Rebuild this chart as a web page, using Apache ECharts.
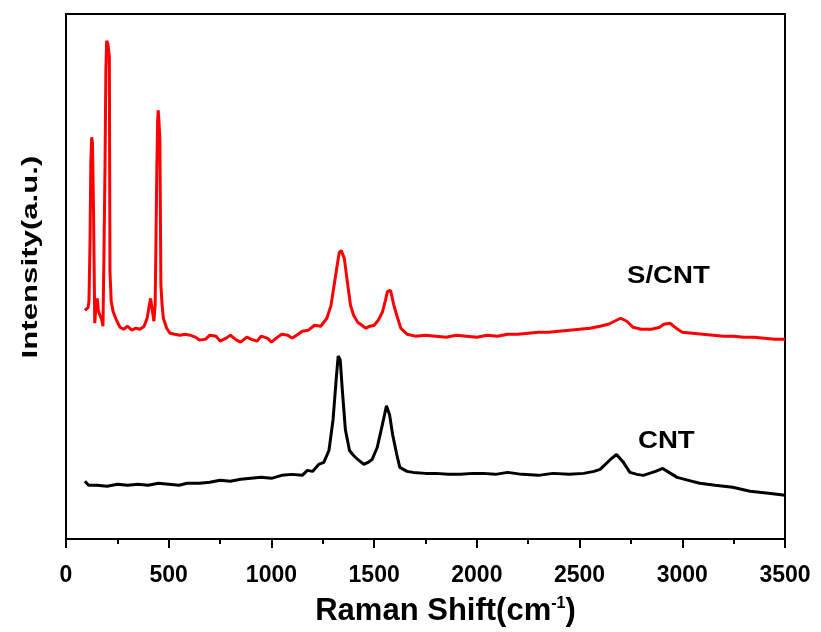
<!DOCTYPE html>
<html>
<head>
<meta charset="utf-8">
<script src="https://cdn.jsdelivr.net/npm/echarts@6/dist/echarts.min.js"></script>
<style>html,body{margin:0;padding:0;background:#fff}#c{width:821px;height:632px}</style>
</head>
<body>
<div id="c"></div>
<script>
// Raman shift (cm^-1) and intensity (a.u.)
const scntX = [92,100,108,112,117,121,125,129,134,140,146,152,158,165,172,180,185,190,194,198,204,211,214,220,229,238,248,263,280,300,320,340,360,380,395,403,412,420,428,434,438,442,446,449,453,457,462,468,474,490,506,530,555,580,604,630,650,680,700,730,750,780,800,830,850,880,900,930,950,980,1000,1030,1050,1080,1100,1130,1150,1180,1210,1240,1270,1290,1305,1320,1330,1340,1355,1370,1385,1400,1420,1440,1460,1480,1500,1520,1540,1555,1565,1580,1595,1610,1630,1660,1700,1750,1800,1850,1900,1950,2000,2050,2100,2150,2200,2250,2300,2350,2400,2450,2500,2550,2600,2640,2670,2700,2730,2760,2800,2850,2890,2910,2940,2970,3000,3050,3100,3150,3200,3250,3300,3350,3400,3450,3500];
const scntY = [230,228,233,240,300,380,404,398,330,217,235,242,229,225,222,214,290,375,470,501,498,485,269,239,229,224,219,213,211,214,210,212,211,214,222,232,242,230,219,236,300,370,420,431,418,402,255,235,222,212,207,206,205,206,205,203,200,201,205,204,199,202,205,200,198,203,201,199,204,202,198,203,206,205,202,206,209,210,215,214,222,235,255,275,288,290,282,258,235,225,218,215,212,214,215,220,228,240,249,250,236,225,212,206,204,205,204,203,205,204,203,205,204,206,206,207,208,208,209,210,211,212,214,216,219,222,219,213,211,211,213,216,217,212,208,207,206,205,204,204,203,203,202,201,201,200];
const cntX = [92,110,150,200,250,300,350,400,450,500,550,590,650,700,750,800,850,900,950,1000,1050,1100,1150,1175,1200,1230,1255,1280,1300,1315,1325,1335,1345,1360,1380,1400,1420,1450,1470,1490,1515,1540,1560,1575,1590,1610,1625,1660,1690,1750,1800,1860,1920,1980,2030,2090,2150,2220,2300,2370,2450,2520,2570,2600,2650,2680,2710,2745,2780,2810,2870,2905,2935,2975,3030,3085,3160,3245,3330,3420,3500];
const cntY = [58,54,54,53,55,54,55,54,56,55,54,56,56,57,59,58,60,61,62,61,64,65,64,69,68,75,77,89,120,160,184,180,150,110,89,84,80,75,77,80,92,115,134,125,105,85,72,68,67,66,66,65,65,66,66,65,67,65,64,66,65,66,68,70,80,85,78,67,65,64,68,71,67,62,59,56,54,52,48,46,44];
const xTicks = [0,500,1000,1500,2000,2500,3000,3500];
const seriesNames = ['S/CNT', 'CNT'];

const zip = (xs, ys) => xs.map((x, i) => [x, ys[i]]);
const chart = echarts.init(document.getElementById('c'));
const FONT = '"Liberation Sans", Arial, sans-serif';
chart.setOption({
  animation: false,
  grid: { left: 66, right: 36, top: 14, bottom: 90, show: true, borderColor: '#000', borderWidth: 2 },
  xAxis: {
    type: 'value', min: xTicks[0], max: xTicks[xTicks.length - 1], interval: 500,
    axisLine: { show: true, lineStyle: { color: '#000', width: 2 } },
    axisTick: { show: true, inside: false, length: 9, lineStyle: { color: '#000', width: 2 } },
    minorTick: { show: true, splitNumber: 2, length: 5, lineStyle: { color: '#000', width: 2 } },
    splitLine: { show: false },
    axisLabel: { color: '#000', fontFamily: FONT, fontWeight: 'bold', fontSize: 23, margin: 25, formatter: v => String(v) },
    name: '{a|Raman Shift(cm}{s|-1}{a|)}', nameLocation: 'middle', nameGap: 57,
    nameTextStyle: {
      padding: [0, 0, 0, 40],
      rich: {
        a: { color: '#000', fontFamily: FONT, fontWeight: 'bold', fontSize: 31 },
        s: { color: '#000', fontFamily: FONT, fontWeight: 'bold', fontSize: 16, verticalAlign: 'top', padding: [0, 0, 15, 0] }
      }
    }
  },
  yAxis: {
    type: 'value', min: 0, max: 528,
    axisLine: { show: true, lineStyle: { color: '#000', width: 2 } },
    axisTick: { show: false }, axisLabel: { show: false }, splitLine: { show: false }
  },
  series: [
    { name: seriesNames[0], type: 'line', data: zip(scntX, scntY), showSymbol: false, lineStyle: { color: '#f00', width: 3 }, z: 3 },
    { name: seriesNames[1], type: 'line', data: zip(cntX, cntY), showSymbol: false, lineStyle: { color: '#000', width: 3 }, z: 2 }
  ],
  graphic: [
    { type: 'text', x: 31, y: 257, rotation: Math.PI / 2, scaleX: 1.3, scaleY: 0.92,
      style: { text: 'Intensity(a.u.)', fill: '#000', font: 'bold 24px ' + FONT, align: 'center', verticalAlign: 'middle' } },
    { type: 'text', x: 627, y: 277, scaleX: 1.2,
      style: { text: seriesNames[0], fill: '#000', font: 'bold 23px ' + FONT, align: 'left', verticalAlign: 'middle' } },
    { type: 'text', x: 638, y: 442, scaleX: 1.2,
      style: { text: seriesNames[1], fill: '#000', font: 'bold 23px ' + FONT, align: 'left', verticalAlign: 'middle' } }
  ]
});
</script>
</body>
</html>
